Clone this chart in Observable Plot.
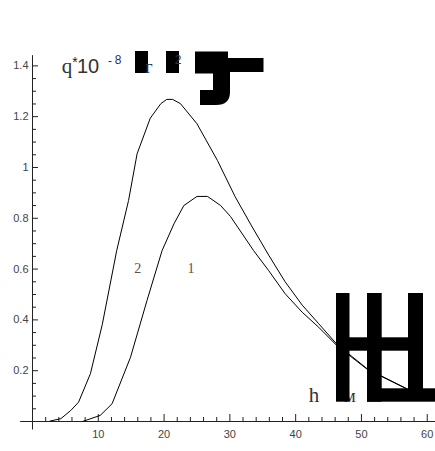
<!DOCTYPE html>
<html><head><meta charset="utf-8">
<script src="https://cdn.jsdelivr.net/npm/d3@7"></script>
<script src="https://cdn.jsdelivr.net/npm/@observablehq/plot@0.6"></script>
<style>body{margin:0;background:#fff} svg{display:block;overflow:visible}</style>
</head><body><div id="chart"></div>
<script>
// Curve 1 (h in m, q*1e-8)
const curve1H = [7.6,10.3,12.1,14.9,17.4,19.7,21.5,23.0,25.0,26.6,28.6,30.1,33.6,35.9,38.4,41.0,43.5,46.3,50.9,56.9];
const curve1Q = [0,0.024,0.070,0.253,0.476,0.673,0.778,0.850,0.886,0.886,0.850,0.807,0.673,0.594,0.503,0.430,0.371,0.298,0.205,0.128];
// Curve 2
const curve2H = [2.7,4.3,5.8,7.0,8.8,10.6,12.8,14.6,15.9,17.9,19.5,20.4,21.3,22.5,25.0,28.1,30.8,33.3,35.9,38.4,41.0,43.5,46.3,50.9,56.9];
const curve2Q = [0.002,0.011,0.043,0.076,0.188,0.381,0.673,0.870,1.054,1.194,1.251,1.268,1.268,1.251,1.172,1.028,0.885,0.770,0.655,0.550,0.458,0.385,0.303,0.207,0.129];
const curveLabels = ["2","1"];
const curveLabelH = [16.0,24.1];
const curveLabelQ = [0.604,0.604];
const xTicks = [10,20,30,40,50,60];
const xTickLabels = ["10","20","30","40","50","60"];
const yTicks = [0.2,0.4,0.6,0.8,1,1.2,1.4];
const yTickLabels = ["0.2","0.4","0.6","0.8","1","1.2","1.4"];

const rows = [
  ...curve1H.map((h,i)=>({h, q:curve1Q[i], s:"1"})),
  ...curve2H.map((h,i)=>({h, q:curve2Q[i], s:"2"}))
];
const xMinor = d3.range(2,60,2).filter(v=>v%10!==0);
const yMinor = d3.range(1,28).map(i=>i*0.05).filter(v=>Math.abs(v*5-Math.round(v*5))>1e-6);

const W=435,H=451, mL=32, mR=3, mT=55.2, mB=30;
const xDom=[0,60.8], yDom=[0,1.44];
const pxX=(W-mL-mR)/(xDom[1]-xDom[0]);
const pxY=(H-mT-mB)/(yDom[1]-yDom[0]);
const tickFont = "'Liberation Sans', Arial, sans-serif";
const serif = "'Liberation Serif', 'DejaVu Serif', serif";

const plot = Plot.plot({
  width:W, height:H, marginLeft:mL, marginRight:mR, marginTop:mT, marginBottom:mB,
  x:{domain:xDom, axis:null}, y:{domain:yDom, axis:null},
  style:{background:"#fff", overflow:"visible"},
  marks:[
    Plot.ruleY([0],{x1:-1.8, x2:61.3, stroke:"#222", strokeWidth:1}),
    Plot.ruleX([0],{y1:-8.5/pxY, y2:1.44, stroke:"#222", strokeWidth:1}),
    Plot.ruleX(xTicks,{x:d=>d, y1:0, y2:7/pxY, stroke:"#222", strokeWidth:1}),
    Plot.ruleX(xMinor,{x:d=>d, y1:0, y2:4/pxY, stroke:"#222", strokeWidth:1}),
    Plot.ruleY(yTicks,{y:d=>d, x1:0, x2:6/pxX, stroke:"#222", strokeWidth:1}),
    Plot.ruleY(yMinor,{y:d=>d, x1:0, x2:4/pxX, stroke:"#222", strokeWidth:1}),
    Plot.text(xTicks,{x:d=>d, y:0, text:(d,i)=>xTickLabels[i], dy:9, lineAnchor:"top", fontSize:11, fontFamily:tickFont, fill:"#444"}),
    Plot.text(yTicks,{x:0, y:d=>d, text:(d,i)=>yTickLabels[i], dx:-4, textAnchor:"end", fontSize:11, fontFamily:tickFont, fill:"#444"}),
    Plot.line(rows,{x:"h", y:"q", z:"s", stroke:"#000", strokeWidth:1, curve:"linear"}),
    Plot.text(curveLabels,{x:(d,i)=>curveLabelH[i], y:(d,i)=>curveLabelQ[i], text:d=>d, fontSize:14, fontFamily:serif, fill:"#555"})
  ]
});
document.getElementById("chart").appendChild(plot);

// Axis-label text (rendered as in the source, with the heavy glyph blocks)
const svg = d3.select(plot);
const g = svg.append("g");
const sans = "'Liberation Sans', Arial, sans-serif";
g.append("rect").attr("x",135).attr("y",51).attr("width",13).attr("height",22).attr("fill","#000");
g.append("rect").attr("x",166).attr("y",51).attr("width",13).attr("height",22).attr("fill","#000");
g.append("path").attr("fill","#000").attr("d",
  "M195,51.5 L228,51.5 L228,58 L263.5,58 L263.5,72 L230,72 L230,92 Q230,105 216,105 L200,105 L200,90 L213,90 L213,73.5 L195,73.5 Z");
g.append("text").attr("x",67).attr("y",73).attr("font-family",serif).attr("font-size",21).attr("fill","#333").text("q");
g.append("text").attr("x",75).attr("y",67).attr("font-family",sans).attr("font-size",14).attr("fill","#222").text("*");
g.append("text").attr("x",88).attr("y",73).attr("font-family",sans).attr("font-size",20).attr("fill","#333").text("10");
g.append("text").attr("x",110).attr("y",65).attr("font-family",sans).attr("font-size",12).attr("fill","#333").text("-");
g.append("text").attr("x",118).attr("y",64).attr("font-family",sans).attr("font-size",12).attr("fill","#333").text("8");
g.append("text").attr("x",149).attr("y",73).attr("font-family",serif).attr("font-size",18).attr("fill","#333").text("г");
g.append("text").attr("x",178).attr("y",64).attr("font-family",sans).attr("font-size",12).attr("fill","#333").text("2");
g.append("text").attr("x",314).attr("y",401.7).attr("font-family",serif).attr("font-size",21).attr("fill","#333").text("h");
g.append("text").attr("x",350).attr("y",401.7).attr("font-family",serif).attr("font-size",18).attr("fill","#333").text("м");
[[336,293,13.5,108.7],[367,293,14.7,108.7],[408,293,15,97],[336,337.3,87,13.4],[367,388.3,68,13.4]].forEach(([x,y,w,h])=>{
  g.append("rect").attr("x",x).attr("y",y).attr("width",w).attr("height",h).attr("fill","#000");
});
</script>
</body></html>
